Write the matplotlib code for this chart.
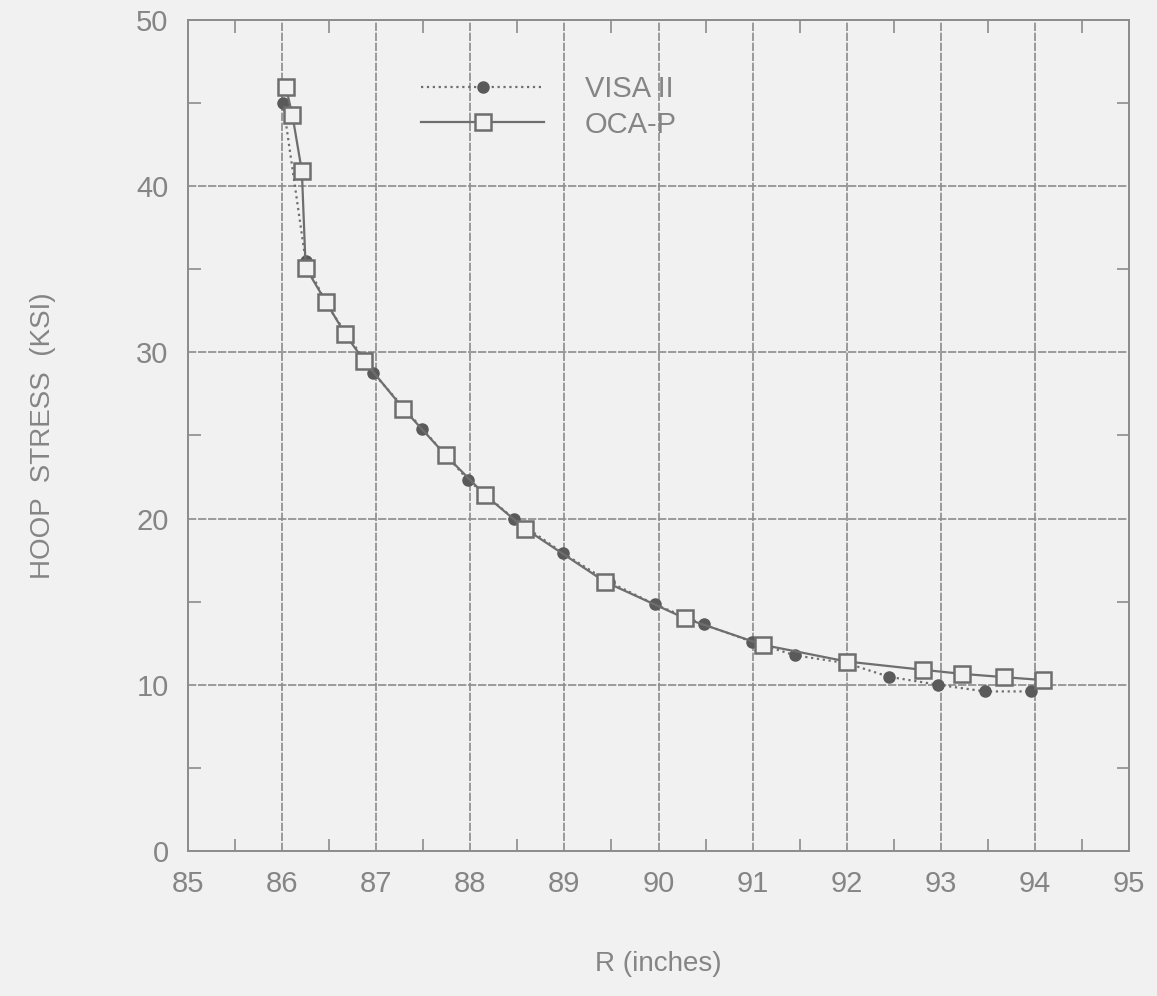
import numpy as np
import matplotlib
matplotlib.use("Agg")
import matplotlib.pyplot as plt
from matplotlib.ticker import MultipleLocator

# VISA II results
visa_r = [86.01, 86.25, 86.47, 86.97, 87.49, 87.98, 88.46, 88.99, 89.47,
          89.96, 90.48, 90.99, 91.45, 92.0, 92.45, 92.97, 93.47, 93.96]
visa_s = [45.0, 35.5, 32.9, 28.75, 25.4, 22.3, 20.0, 17.9, 16.2,
          14.84, 13.63, 12.6, 11.77, 11.3, 10.48, 10.0, 9.6, 9.6]

# OCA-P results
oca_r = [86.04, 86.11, 86.21, 86.25, 86.47, 86.67, 86.87, 87.29, 87.74,
         88.16, 88.58, 89.43, 90.28, 91.11, 92.0, 92.81, 93.22, 93.67, 94.09]
oca_s = [45.96, 44.25, 40.9, 35.1, 33.0, 31.1, 29.5, 26.6, 23.8,
         21.4, 19.4, 16.2, 14.0, 12.4, 11.4, 10.9, 10.66, 10.46, 10.28]

bg = '#f1f1f1'
txt = '#858585'
ln = '#6e6e6e'

plt.rcParams['font.family'] = ['Liberation Sans', 'DejaVu Sans']

fig = plt.figure(figsize=(11.57, 9.96), dpi=100, facecolor=bg)
ax = fig.add_axes([0.1625, 0.1456, 0.8133, 0.8344], facecolor=bg)

ax.plot(visa_r, visa_s, linestyle=':', color=ln, linewidth=1.6,
        marker='o', markersize=8, markerfacecolor='#5a5a5a',
        markeredgecolor='#5a5a5a', label='VISA II', zorder=3)
ax.plot(oca_r, oca_s, linestyle='-', color=ln, linewidth=1.6,
        marker='s', markersize=11, markerfacecolor=bg,
        markeredgecolor=ln, markeredgewidth=1.8, label='OCA-P', zorder=4)

ax.set_xlim(85, 95)
ax.set_ylim(0, 50)
ax.xaxis.set_major_locator(MultipleLocator(1))
ax.xaxis.set_minor_locator(MultipleLocator(0.5))
ax.yaxis.set_major_locator(MultipleLocator(10))
ax.yaxis.set_minor_locator(MultipleLocator(5))

ax.grid(True, which='major', color='#8c8c8c', linewidth=1.2, linestyle=(0, (5, 1)))
ax.tick_params(which='both', direction='in', top=True, right=True,
               colors='#8c8c8c', labelcolor=txt, labelsize=21)
ax.tick_params(which='major', length=0, pad=14)
ax.tick_params(which='minor', length=9, width=1.2)
for s in ax.spines.values():
    s.set_color('#8c8c8c')
    s.set_linewidth(1.4)

ax.set_xlabel('R (inches)', color=txt, fontsize=20, labelpad=38)
ax.set_ylabel('HOOP  STRESS  (KSI)', color=txt, fontsize=20, labelpad=58)

leg = ax.legend(loc='upper left', bbox_to_anchor=(0.22, 0.965), frameon=False,
                fontsize=21, handlelength=4.2, handletextpad=1.4,
                labelspacing=0.25, labelcolor=txt)

fig.savefig('out.png', dpi=100, facecolor=bg)
